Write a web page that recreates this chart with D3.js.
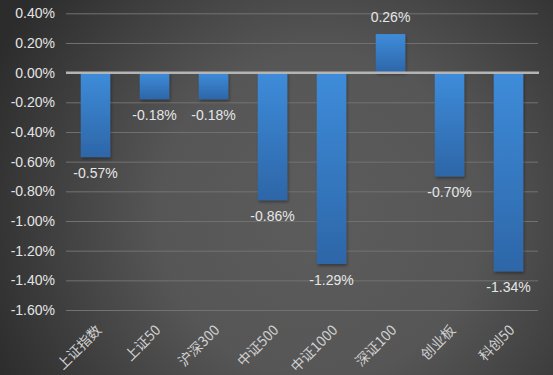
<!DOCTYPE html>
<html>
<head>
<meta charset="utf-8">
<script src="https://cdn.jsdelivr.net/npm/d3@7"></script>
<style>
  html, body { margin: 0; padding: 0; background: #333; }
  svg { display: block; }
</style>
</head>
<body>
<svg width="553" height="375"></svg>
<script>
// data
const categories = ["上证指数", "上证50", "沪深300", "中证500", "中证1000", "深证100", "创业板", "科创50"]
const values = [-0.57, -0.18, -0.18, -0.86, -1.29, 0.26, -0.70, -1.34]
const yTicks = [0.4, 0.2, 0, -0.2, -0.4, -0.6, -0.8, -1.0, -1.2, -1.4, -1.6]

const svg = d3.select("svg"),
    width = +svg.attr("width"),
    height = +svg.attr("height")

// plain hyphen minus, like the original
const pct = d => (Math.abs(d) < 1e-9 ? 0 : d).toFixed(2) + "%"

const defs = svg.append("defs")

// background glow
const bg = defs.append("radialGradient").attr("id", "bg")
    .attr("gradientUnits", "userSpaceOnUse")
    .attr("cx", 320).attr("cy", 215).attr("r", 360)
bg.append("stop").attr("offset", "0%").attr("stop-color", "#5c5c5c")
bg.append("stop").attr("offset", "45%").attr("stop-color", "#565656")
bg.append("stop").attr("offset", "100%").attr("stop-color", "#2c2c2c")

// bar fill
const barGrad = defs.append("linearGradient").attr("id", "bar")
    .attr("x1", 0).attr("y1", 0).attr("x2", 0).attr("y2", 1)
barGrad.append("stop").attr("offset", "0%").attr("stop-color", "#3e8cda")
barGrad.append("stop").attr("offset", "100%").attr("stop-color", "#2d66a8")

const shadow = defs.append("filter").attr("id", "shadow")
    .attr("x", "-20%").attr("y", "-20%").attr("width", "140%").attr("height", "140%")
shadow.append("feDropShadow").attr("dx", 1).attr("dy", 2).attr("stdDeviation", 1.5)
    .attr("flood-color", "#000").attr("flood-opacity", 0.35)

svg.append("rect").attr("width", width).attr("height", height).attr("fill", "url(#bg)")

// scales
const x = d3.scaleBand().domain(categories).range([66, 538]).paddingInner(0.5).paddingOuter(0.25)
const y = d3.scaleLinear().domain([-1.6, 0.4]).range([310, 13.3])

// grid + y labels
const yAxis = svg.append("g")
    .attr("transform", "translate(66,0)")
    .call(d3.axisLeft(y).tickValues(yTicks).tickSize(-472).tickPadding(11).tickFormat(pct))
yAxis.select(".domain").remove()
yAxis.selectAll(".tick line").attr("stroke", "#727272").attr("stroke-width", 1)
yAxis.selectAll(".tick text")
    .attr("fill", "#e4e4e4")
    .style("font", "14px 'Liberation Sans', Arial, sans-serif")

// bars
svg.append("g").selectAll("rect")
    .data(values)
    .join("rect")
    .attr("x", (d, i) => x(categories[i]))
    .attr("width", x.bandwidth())
    .attr("y", d => y(Math.max(0, d)))
    .attr("height", d => Math.abs(y(d) - y(0)))
    .attr("fill", "url(#bar)")
    .attr("filter", "url(#shadow)")

// zero line
svg.append("line")
    .attr("x1", 66).attr("x2", 539)
    .attr("y1", y(0)).attr("y2", y(0))
    .attr("stroke", "#b4b4b4").attr("stroke-width", 2.5)

// value labels
svg.append("g").selectAll("text")
    .data(values)
    .join("text")
    .attr("x", (d, i) => x(categories[i]) + x.bandwidth() / 2)
    .attr("y", d => d < 0 ? y(d) + 21 : y(d) - 12)
    .attr("text-anchor", "middle")
    .attr("fill", "#e6e6e6")
    .style("font", "14px 'Liberation Sans', Arial, sans-serif")
    .text(pct)

// category labels, rotated
svg.append("g").selectAll("text")
    .data(categories)
    .join("text")
    .attr("transform", d => `translate(${x(d) + x.bandwidth() / 2 + 7},331) rotate(-45)`)
    .attr("text-anchor", "end")
    .attr("fill", "#d0d0d0")
    .style("font", "14px 'Noto Sans CJK SC', sans-serif")
    .text(d => d)
</script>
</body>
</html>
